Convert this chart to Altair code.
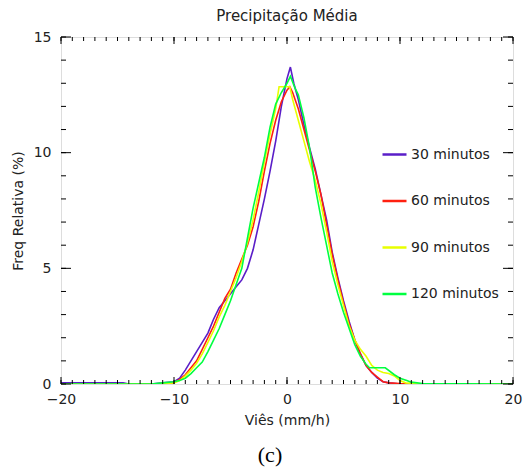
import altair as alt
import pandas as pd

series_names = ["30 minutos", "60 minutos", "90 minutos", "120 minutos"]
series_colors = ["#5a1ec8", "#ff2010", "#e8ff00", "#00ff40"]

purple_x = [-20, -14.5, -14, -12, -11, -10, -9.5, -9, -8.5, -8, -7.5, -7, -6.5, -6, -5.5, -5, -4.5, -4, -3.5, -3, -2.5, -2, -1.5, -1, -0.5,
            0, 0.3, 0.6, 1, 1.5, 2, 2.5, 3, 3.5, 4, 4.5, 5, 5.5, 6, 6.5, 7, 7.5, 8, 8.5, 9, 10, 12, 20]
purple_y = [0.05, 0.05, 0, 0, 0.05, 0.1, 0.25, 0.6, 1.0, 1.4, 1.8, 2.2, 2.8, 3.3, 3.6, 3.9, 4.2, 4.5, 5.0, 5.8, 6.9, 8.0, 9.2, 10.5, 12.0,
            13.2, 13.7, 13.0, 12.3, 11.2, 10.2, 9.3, 8.2, 7.1, 5.7, 4.6, 3.6, 2.7, 1.9, 1.3, 0.8, 0.5, 0.25, 0.1, 0.05, 0, 0, 0]

red_x = [-20, -15, -14, -12, -10.5, -10, -9.5, -9, -8.5, -8, -7.5, -7, -6.5, -6, -5.5, -5, -4.5, -4, -3.5, -3, -2.5, -2, -1.5, -1, -0.5,
         0, 0.25, 0.5, 1, 1.5, 2, 2.5, 3, 3.5, 4, 4.5, 5, 5.5, 6, 6.5, 7, 7.5, 8, 8.5, 9, 10, 13, 17, 20]
red_y = [0, 0, 0, 0, 0, 0.05, 0.2, 0.4, 0.7, 1.0, 1.5, 2.0, 2.5, 3.1, 3.7, 4.1, 4.8, 5.4, 6.0, 6.8, 7.9, 9.2, 10.4, 11.4, 12.2,
         12.7, 12.85, 12.6, 11.9, 11.0, 10.1, 9.2, 8.2, 6.9, 5.6, 4.5, 3.5, 2.6, 1.9, 1.3, 0.8, 0.5, 0.3, 0.1, 0.05, 0.02, 0, 0, 0]

yellow_x = [-20, -12, -11, -10, -9.5, -9, -8.5, -8, -7.5, -7, -6.5, -6, -5.5, -5, -4.5, -4, -3.5, -3, -2.5, -2, -1.5, -1,
            -0.7, 0.25, 0.5, 1, 1.5, 2, 2.5, 3, 3.5, 4, 4.5, 5, 5.5, 6, 6.5, 7, 7.5, 8, 8.5, 9, 9.5, 10, 10.5, 12, 20]
yellow_y = [0, 0, 0.02, 0.05, 0.15, 0.35, 0.6, 0.9, 1.3, 1.8, 2.3, 2.9, 3.4, 4.0, 4.6, 5.3, 6.1, 7.1, 8.3, 9.6, 10.8, 11.9,
            12.85, 12.85, 12.3, 11.4, 10.5, 9.6, 8.8, 7.8, 6.6, 5.3, 4.3, 3.4, 2.5, 1.9, 1.5, 1.2, 0.8, 0.6, 0.5, 0.45, 0.35, 0.15, 0.05, 0, 0]

green_x = [-20, -12, -11, -10, -9.5, -9, -8.5, -8, -7.5, -7, -6.5, -6, -5.5, -5, -4.5, -4, -3.5, -3, -2.5, -2, -1.5, -1, -0.5, 0,
           0.3, 0.7, 1, 1.5, 2, 2.5, 3, 3.5, 4, 4.5, 5, 5.5, 6, 6.5, 7, 7.3, 8.7, 9.5, 10, 10.6, 11, 12, 20]
green_y = [0, 0, 0.05, 0.1, 0.15, 0.25, 0.45, 0.7, 0.95, 1.4, 1.9, 2.4, 3.0, 3.6, 4.3, 5.0, 6.3, 7.6, 8.7, 9.8, 11.1, 12.1, 12.6, 13.0,
           13.3, 12.8, 12.5, 11.5, 10.2, 8.5, 7.2, 6.0, 4.8, 3.9, 3.1, 2.4, 1.7, 1.2, 0.85, 0.7, 0.7, 0.4, 0.25, 0.15, 0.08, 0.02, 0]

x_major = [-20, -10, 0, 10, 20]
x_minor = list(range(-20, 21))
y_major = [0, 5, 10, 15]
y_minor = list(range(0, 16))

title_text = "Precipitação Média"
x_title = "Viês (mm/h)"
y_title = "Freq Relativa (%)"
caption_text = "(c)"

FONT = "DejaVu Sans"
W, H = 452, 347

rows = []
for name, xs_, ys_ in zip(series_names, [purple_x, red_x, yellow_x, green_x], [purple_y, red_y, yellow_y, green_y]):
    for i, (a, b) in enumerate(zip(xs_, ys_)):
        rows.append({"series": name, "x": a, "y": b, "i": i})
df = pd.DataFrame(rows)

xs = alt.Scale(domain=[-20, 20], nice=False, zero=False)
ys = alt.Scale(domain=[0, 15], nice=False, zero=False)

x_axis = alt.Axis(values=x_major, ticks=False, domain=False, grid=False, labelPadding=8,
                  titlePadding=7, labelFontSize=14, titleFontSize=14, labelFont=FONT,
                  titleFont=FONT, labelColor="#222", titleColor="#222", titleFontWeight="normal",
                  labelFlush=False)
y_axis = alt.Axis(values=y_major, ticks=False, domain=False, grid=False, labelPadding=10,
                  labelFontSize=14, titleFontSize=14, labelFont=FONT, titleFont=FONT,
                  labelColor="#222", titleColor="#222", titleFontWeight="normal",
                  titleX=-43, titleY=H / 2, titleBaseline="middle", labelFlush=False)

lines = alt.Chart(df).mark_line(strokeWidth=1.6, clip=True).encode(
    x=alt.X("x:Q", scale=xs, title=x_title, axis=x_axis),
    y=alt.Y("y:Q", scale=ys, title=y_title, axis=y_axis),
    color=alt.Color("series:N", scale=alt.Scale(domain=series_names, range=series_colors),
                    sort=series_names,
                    legend=alt.Legend(orient="none", legendX=320, legendY=104, title=None,
                                      symbolType="stroke", symbolSize=576, symbolStrokeWidth=2.5,
                                      rowPadding=25.5, labelFontSize=14, labelFont=FONT, labelOffset=3,
                                      labelColor="#222")),
    order=alt.Order("i:Q"),
)

def tick_layer(vals, axis_ch, side, length):
    d = pd.DataFrame({"t": vals})
    base = alt.Chart(d).mark_rule(color="black", strokeWidth=1)
    xe = alt.X("t:Q", scale=xs, title=x_title, axis=x_axis)
    ye = alt.Y("t:Q", scale=ys, title=y_title, axis=y_axis)
    if axis_ch == "x":
        if side == "bottom":
            return base.encode(x=xe, y=alt.value(H), y2=alt.value(H - length))
        return base.encode(x=xe, y=alt.value(0), y2=alt.value(length))
    if side == "left":
        return base.encode(y=ye, x=alt.value(0), x2=alt.value(length))
    return base.encode(y=ye, x=alt.value(W), x2=alt.value(W - length))

ticks = [
    tick_layer(x_minor, "x", "bottom", 4), tick_layer(x_major, "x", "bottom", 7),
    tick_layer(x_minor, "x", "top", 4), tick_layer(x_major, "x", "top", 7),
    tick_layer(y_minor, "y", "left", 5), tick_layer(y_major, "y", "left", 10),
    tick_layer(y_minor, "y", "right", 5), tick_layer(y_major, "y", "right", 10),
]

caption = alt.Chart(pd.DataFrame({"c": [caption_text]})).mark_text(
    font="Liberation Serif", fontSize=22, color="black", baseline="middle", align="center"
).encode(text="c:N", x=alt.value(209), y=alt.value(418))

chart = alt.layer(lines, *ticks, caption).properties(
    width=W, height=H,
    title=alt.TitleParams(title_text, anchor="middle", fontSize=15, font=FONT, fontWeight="normal",
                          color="#222", offset=6),
    autosize=alt.AutoSizeParams(type="none"),
    padding={"left": 53, "top": 29, "right": 10, "bottom": 85},
).configure_view(stroke="black", strokeWidth=1).configure(background="white")

chart.save("out.html", embed_options={"renderer": "svg", "actions": False})
